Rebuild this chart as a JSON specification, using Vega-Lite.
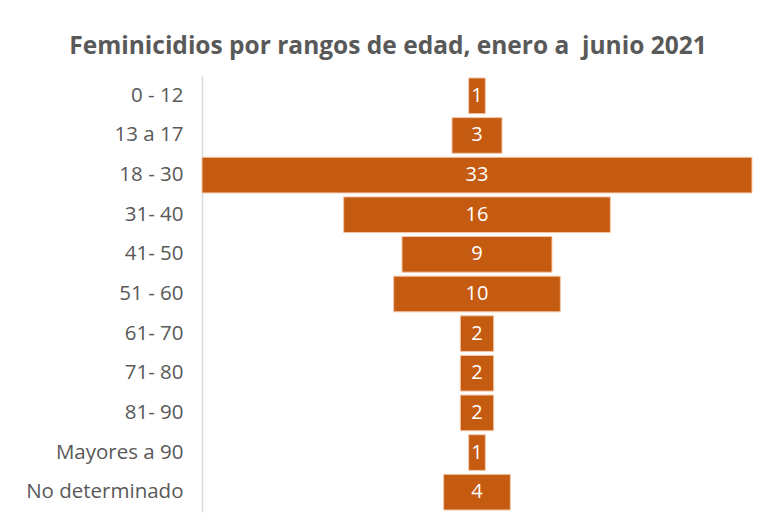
{
  "$schema": "https://vega.github.io/schema/vega-lite/v6.json",
  "width": 550,
  "height": 436,
  "autosize": {"type": "none"},
  "padding": {"left": 202, "top": 76, "right": 10, "bottom": 11},
  "background": "white",
  "title": {
    "text": "Feminicidios por rangos de edad, enero a\u00a0 junio 2021",
    "font": "Open Sans",
    "fontSize": 24.5,
    "fontWeight": "bold",
    "color": "#595959",
    "anchor": "middle",
    "dx": -89,
    "offset": 17
  },
  "data": {
    "values": [
      {"rango": "0 - 12", "casos": 1},
      {"rango": "13 a 17", "casos": 3},
      {"rango": "18 - 30", "casos": 33},
      {"rango": "31- 40", "casos": 16},
      {"rango": "41- 50", "casos": 9},
      {"rango": "51 - 60", "casos": 10},
      {"rango": "61- 70", "casos": 2},
      {"rango": "71- 80", "casos": 2},
      {"rango": "81- 90", "casos": 2},
      {"rango": "Mayores a 90", "casos": 1},
      {"rango": "No determinado", "casos": 4}
    ]
  },
  "encoding": {
    "y": {
      "field": "rango",
      "type": "nominal",
      "sort": null,
      "scale": {"paddingInner": 0.1, "paddingOuter": 0.05},
      "axis": {
        "title": null,
        "ticks": false,
        "domain": true,
        "domainColor": "#D9D9D9",
        "domainWidth": 1.5,
        "labelFont": "Open Sans",
        "labelFontSize": 20.5,
        "labelColor": "#595959",
        "labelPadding": 19
      }
    }
  },
  "layer": [
    {
      "mark": {"type": "bar", "color": "#C55A11", "stroke": "#F4C7A8", "strokeWidth": 1},
      "encoding": {
        "x": {
          "field": "casos",
          "type": "quantitative",
          "stack": "center",
          "scale": {"domain": [0, 33], "nice": false},
          "axis": null
        }
      }
    },
    {
      "mark": {"type": "text", "color": "white", "font": "Open Sans", "fontSize": 20, "baseline": "middle", "align": "center"},
      "encoding": {
        "x": {
          "field": "casos",
          "type": "quantitative",
          "stack": "center",
          "bandPosition": 0.5
        },
        "text": {"field": "casos", "type": "quantitative"}
      }
    }
  ],
  "config": {"view": {"stroke": null}}
}
